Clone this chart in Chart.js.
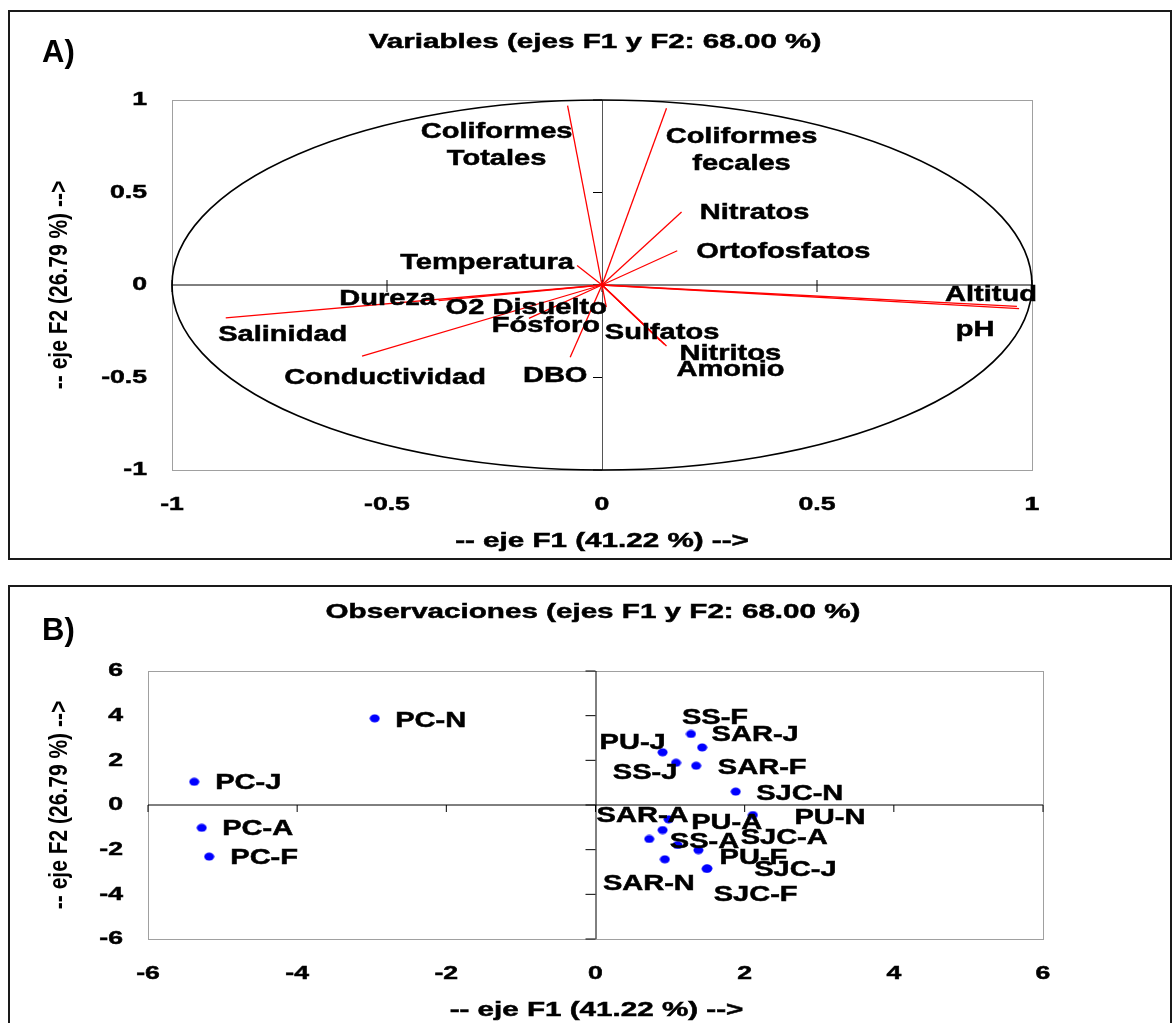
<!DOCTYPE html>
<html>
<head>
<meta charset="utf-8">
<script src="https://cdn.jsdelivr.net/npm/chart.js@4.4.0/dist/chart.umd.min.js"></script>
<style>
  body { margin: 0; background: #fff; width: 1173px; height: 1023px; overflow: hidden; position: relative; }
  .frame { position: absolute; left: 8px; width: 1164px; border: 2px solid #1a1a1a; box-sizing: border-box; }
  canvas { position: absolute; left: 0; }
</style>
</head>
<body>
<div class="frame" style="top:10px;height:550px"></div>
<div class="frame" style="top:585px;height:470px"></div>
<canvas id="varChart" width="1173" height="575" style="top:0"></canvas>
<canvas id="obsChart" width="1173" height="448" style="top:575px"></canvas>
<script>
// --- data: variables (F1, F2 loadings) ---
const varNames = ['Coliformes\nTotales', 'Coliformes\nfecales', 'Nitratos', 'Ortofosfatos', 'Temperatura',
  'Dureza', 'O2 Disuelto', 'Fósforo', 'Salinidad', 'Conductividad', 'DBO',
  'Sulfatos', 'Nitritos', 'Amonio', 'Altitud', 'pH']
const varF1 = [-0.08, 0.15, 0.185, 0.175, -0.058, -0.38, 0.01, -0.17, -0.875, -0.558, -0.074, 0.135, 0.145, 0.15, 0.965, 0.97]
const varF2 = [0.97, 0.955, 0.395, 0.185, 0.105, -0.085, -0.12, -0.18, -0.178, -0.384, -0.39, -0.30, -0.32, -0.33, -0.115, -0.128]
const varTicks = [-1, -0.5, 0, 0.5, 1]

// --- data: observations (F1, F2 scores) ---
const obsNames = ['PC-N', 'PC-J', 'PC-A', 'PC-F', 'SS-F', 'SAR-J', 'PU-J', 'SS-J', 'SAR-F', 'SJC-N',
  'PU-N', 'SAR-A', 'PU-A', 'SJC-A', 'SS-A', 'PU-F', 'SJC-J', 'SAR-N', 'SJC-F']
const obsF1 = [-2.96, -5.38, -5.28, -5.18, 1.28, 1.43, 0.90, 1.08, 1.35, 1.88,
  2.11, 0.98, 0.90, 0.72, 1.10, 1.38, 1.50, 0.93, 1.49]
const obsF2 = [3.88, 1.04, -1.02, -2.31, 3.18, 2.58, 2.36, 1.89, 1.76, 0.60,
  -0.45, -0.64, -1.12, -1.52, -1.79, -2.02, -2.84, -2.43, -2.86]
const obsTicks = [-6, -4, -2, 0, 2, 4, 6]

// label placement (pixel offsets from the mark), styling only
const varLabelOffsets = [[-71, 26], [75, 29], [73, 1], [106, 1], [-90, -3], [-51, -2], [-80, 1], [17, 8],
  [57, 17], [23, 22], [-15, 19], [2, -8], [66, 10], [64, 24], [-26, -11], [-44, 21]]
const obsLabelOffsets = [[56, 3], [54, 1], [56, 1], [55, 1], [24, -16], [53, -12], [-30, -9], [-31, 10], [66, 2], [64, 2],
  [77, 3], [-26, -3], [64, -7], [135, -1], [27, -3], [55, 8], [88, 2], [-16, 25], [49, 26]]

const FONT = '"Liberation Sans", Arial, sans-serif'

function stretchText(ctx, s, x, y, size, sx, align) {
  ctx.save()
  ctx.font = 'bold ' + size + 'px ' + FONT
  ctx.fillStyle = '#000'
  ctx.strokeStyle = '#000'
  ctx.lineWidth = 0.5
  ctx.textBaseline = 'middle'
  ctx.textAlign = align || 'center'
  ctx.translate(x, y)
  ctx.scale(sx, 1)
  ctx.fillText(s, 0, 0)
  ctx.strokeText(s, 0, 0)
  ctx.restore()
}

function fmt(v) { return String(v) }

// frame, axes, ticks and titles shared by both panels
function makeDecor(opts) {
  return {
    id: 'decor',
    beforeDatasetsDraw(chart) {
      const { ctx, chartArea: a, scales: { x, y } } = chart
      const x0 = x.getPixelForValue(0), y0 = y.getPixelForValue(0)
      ctx.save()
      ctx.strokeStyle = '#a0a0a0'
      ctx.lineWidth = 1
      ctx.strokeRect(a.left + 0.5, a.top + 0.5, a.width, a.height)
      // zero axes
      ctx.strokeStyle = '#000'
      ctx.beginPath()
      ctx.moveTo(a.left, y0); ctx.lineTo(a.right, y0)
      ctx.stroke()
      ctx.strokeStyle = opts.vAxisColor
      ctx.beginPath()
      ctx.moveTo(x0 + 0.5, a.top); ctx.lineTo(x0 + 0.5, a.bottom)
      ctx.stroke()
      ctx.strokeStyle = '#000'
      ctx.beginPath()
      for (const t of opts.ticks) {
        const px = x.getPixelForValue(t), py = y.getPixelForValue(t)
        ctx.moveTo(px, y0 - opts.xTickUp); ctx.lineTo(px, y0 + 7)
        ctx.moveTo(x0 - opts.yTickLen, py); ctx.lineTo(x0, py)
      }
      ctx.stroke()
      if (opts.circle) {
        ctx.strokeStyle = '#000'
        ctx.lineWidth = 1.6
        ctx.beginPath()
        ctx.ellipse(x0, y0, x.getPixelForValue(1) - x0, y0 - y.getPixelForValue(1), 0, 0, Math.PI * 2)
        ctx.stroke()
      }
      ctx.restore()
    },
    afterDatasetsDraw(chart) {
      const { ctx, chartArea: a, scales: { x, y } } = chart
      for (const t of opts.ticks) {
        stretchText(ctx, fmt(t), x.getPixelForValue(t), a.bottom + 35, 19, 1.4, 'center')
        stretchText(ctx, fmt(t), a.left - 25, y.getPixelForValue(t), 19, 1.4, 'right')
      }
      stretchText(ctx, opts.title, opts.titleX, opts.titleY, 21, 1.41, 'center')
      stretchText(ctx, '-- eje F1 (41.22 %) -->', (a.left + a.right) / 2 - opts.xTitleShift, opts.xTitleY, 20, 1.48, 'center')
      ctx.save()
      ctx.translate(60, (a.top + a.bottom) / 2)
      ctx.rotate(-Math.PI / 2)
      ctx.scale(1.05, 1.3)
      ctx.font = 'bold 20px ' + FONT
      ctx.fillStyle = '#000'
      ctx.textAlign = 'center'
      ctx.textBaseline = 'middle'
      ctx.fillText('-- eje F2 (26.79 %) -->', 0, 0)
      ctx.restore()
      ctx.save()
      ctx.font = 'bold 31px ' + FONT
      ctx.fillStyle = '#000'
      ctx.textBaseline = 'alphabetic'
      ctx.fillText(opts.panel, 42, opts.panelY)
      ctx.restore()
      opts.labels(chart)
    }
  }
}

const baseOptions = (lo, hi, pad) => ({
  responsive: false,
  animation: false,
  devicePixelRatio: 1,
  layout: { padding: pad },
  plugins: { legend: { display: false }, tooltip: { enabled: false } },
  scales: {
    x: { type: 'linear', min: lo, max: hi, display: false },
    y: { type: 'linear', min: lo, max: hi, display: false }
  }
})

// ---- A) variables ----
const vecSets = varNames.map((n, i) => ({
  label: n,
  data: [{ x: 0, y: 0 }, { x: varF1[i], y: varF2[i] }],
  showLine: true,
  borderColor: '#ff0000',
  borderWidth: 1.3,
  pointRadius: 0
}))

new Chart(document.getElementById('varChart'), {
  type: 'scatter',
  data: { datasets: vecSets },
  options: baseOptions(-1, 1, { left: 172, top: 100, right: 141, bottom: 105 }),
  plugins: [makeDecor({
    ticks: varTicks, circle: true, vAxisColor: '#555', xTickUp: 5, yTickLen: 9,
    title: 'Variables (ejes F1 y F2: 68.00 %)', titleX: 595, titleY: 42,
    xTitleY: 541, xTitleShift: 0, panel: 'A)', panelY: 62,
    labels(chart) {
      const { x, y } = chart.scales
      varNames.forEach((n, i) => {
        const px = x.getPixelForValue(varF1[i]) + varLabelOffsets[i][0]
        const py = y.getPixelForValue(varF2[i]) + varLabelOffsets[i][1]
        n.split('\n').forEach((line, k) => stretchText(chart.ctx, line, px, py + k * 27, 22, 1.32, 'center'))
      })
    }
  })]
})

// ---- B) observations ----
const dot = document.createElement('canvas')
dot.width = 11; dot.height = 9
const dctx = dot.getContext('2d')
dctx.fillStyle = '#0000ff'
dctx.beginPath()
dctx.ellipse(5.5, 4.5, 5, 4, 0, 0, Math.PI * 2)
dctx.fill()

new Chart(document.getElementById('obsChart'), {
  type: 'scatter',
  data: {
    datasets: [{
      label: 'Observaciones',
      data: obsNames.map((n, i) => ({ x: obsF1[i], y: obsF2[i] })),
      pointStyle: dot,
      pointRadius: 5
    }]
  },
  options: baseOptions(-6, 6, { left: 148, top: 96, right: 130, bottom: 84 }),
  plugins: [makeDecor({
    ticks: obsTicks, circle: false, vAxisColor: '#000', xTickUp: 0, yTickLen: 10,
    title: 'Observaciones (ejes F1 y F2: 68.00 %)', titleX: 593, titleY: 37,
    xTitleY: 435, xTitleShift: -1, panel: 'B)', panelY: 65,
    labels(chart) {
      const { x, y } = chart.scales
      obsNames.forEach((n, i) => {
        const px = x.getPixelForValue(obsF1[i]) + obsLabelOffsets[i][0]
        const py = y.getPixelForValue(obsF2[i]) + obsLabelOffsets[i][1]
        stretchText(chart.ctx, n, px, py, 22, 1.32, 'center')
      })
    }
  })]
})
</script>
</body>
</html>
